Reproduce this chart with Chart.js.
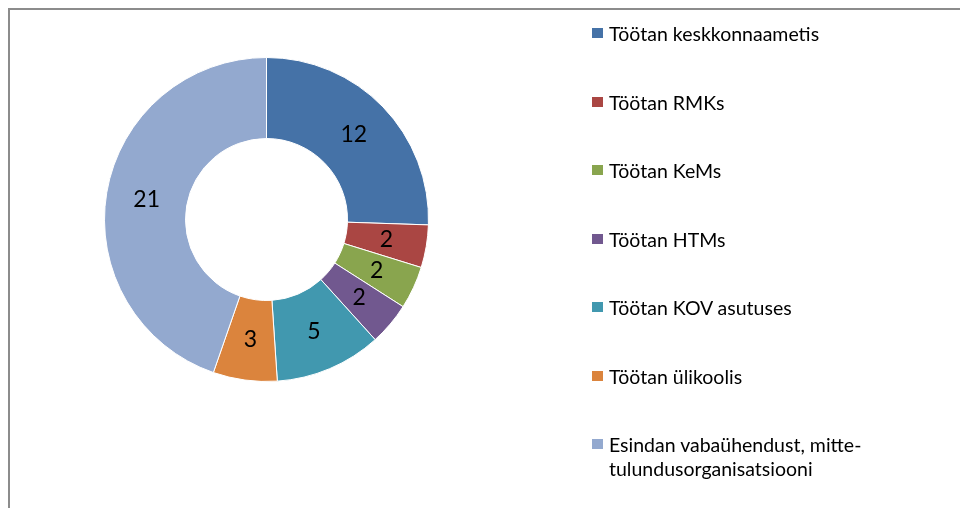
<!DOCTYPE html>
<html>
<head>
<meta charset="utf-8">
<script src="https://cdn.jsdelivr.net/npm/chart.js@4"></script>
<style>
html,body{margin:0;padding:0;background:#fff;width:960px;height:508px;overflow:hidden;}
#frame{position:absolute;left:8px;top:8px;width:980px;height:520px;border-left:2px solid #8c8c8c;border-top:2px solid #8c8c8c;}
#wrap{position:absolute;left:0;top:0;width:960px;height:508px;}
#legend{position:absolute;left:592px;top:0;font-family:Lato,"Open Sans",sans-serif;font-size:19.5px;color:#000;}
.item{position:absolute;left:0;width:340px;line-height:23.5px;}
.sw{position:absolute;left:0;top:6px;width:11px;height:10px;}
.tx{position:absolute;left:17px;top:0;white-space:nowrap;}
</style>
</head>
<body>
<div id="frame"></div>
<div id="wrap"><canvas id="c" width="960" height="508"></canvas></div>
<div id="legend"></div>
<script>
const categories = [
  "Töötan keskkonnaametis",
  "Töötan RMKs",
  "Töötan KeMs",
  "Töötan HTMs",
  "Töötan KOV asutuses",
  "Töötan ülikoolis",
  "Esindan vabaühendust, mitte-\ntulundusorganisatsiooni"
];
const values = [12, 2, 2, 2, 5, 3, 21];
const colors = ["#4572A7", "#AA4643", "#89A54E", "#71588F", "#4198AF", "#DB843D", "#93A9CF"];

const labelPlugin = {
  id: 'sliceLabels',
  afterDatasetsDraw(chart) {
    const ctx = chart.ctx;
    const meta = chart.getDatasetMeta(0);
    ctx.save();
    ctx.font = '23px Lato, "Open Sans", sans-serif';
    ctx.fillStyle = '#000';
    ctx.textAlign = 'center';
    ctx.textBaseline = 'middle';
    meta.data.forEach((arc, i) => {
      const p = arc.tooltipPosition();
      ctx.fillText(String(chart.data.datasets[0].data[i]), p.x, p.y);
    });
    ctx.restore();
  }
};

new Chart(document.getElementById('c'), {
  type: 'doughnut',
  data: {
    labels: categories,
    datasets: [{
      data: values,
      backgroundColor: colors,
      borderColor: '#ffffff',
      borderWidth: 1
    }]
  },
  options: {
    responsive: false,
    animation: false,
    cutout: '50%',
    layout: { padding: { left: 104, top: 57, right: 531, bottom: 126 } },
    plugins: { legend: { display: false }, tooltip: { enabled: false } }
  },
  plugins: [labelPlugin]
});

const tops = [34, 102.5, 171, 239.5, 308, 376.5, 445];
const lg = document.getElementById('legend');
categories.forEach((name, i) => {
  const d = document.createElement('div');
  d.className = 'item';
  d.style.top = (tops[i] - 11.75) + 'px';
  const s = document.createElement('div');
  s.className = 'sw';
  s.style.background = colors[i];
  const t = document.createElement('div');
  t.className = 'tx';
  t.innerHTML = name.split('\n').join('<br>');
  d.appendChild(s); d.appendChild(t);
  lg.appendChild(d);
});
</script>
</body>
</html>
